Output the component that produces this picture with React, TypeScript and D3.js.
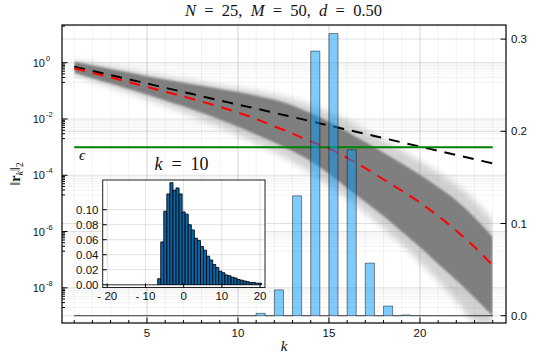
import React from "react";
import * as d3 from "d3";

// k steps of the ensemble
const kSteps = [1, 2, 3, 4, 5, 6, 7, 8, 9, 10, 11, 12, 13, 14, 15, 16, 17, 18, 19, 20, 21, 22, 23, 24];

// log10 of ||r_k||_2
const boundCurve = [-0.14, -0.29, -0.44, -0.59, -0.74, -0.89, -1.04, -1.19, -1.34, -1.49, -1.63, -1.78,
  -1.93, -2.08, -2.23, -2.38, -2.53, -2.68, -2.83, -2.98, -3.13, -3.28, -3.43, -3.58];
const medianCurve = [-0.2, -0.36, -0.52, -0.69, -0.86, -1.03, -1.2, -1.38, -1.57, -1.77, -2.0, -2.26,
  -2.52, -2.8, -3.05, -3.38, -3.75, -4.15, -4.55, -4.97, -5.45, -5.97, -6.55, -7.2];
const coreUpper = [0.03, -0.1, -0.22, -0.35, -0.48, -0.6, -0.71, -0.82, -0.93, -1.04, -1.17, -1.32,
  -1.52, -1.8, -2.1, -2.45, -2.82, -3.2, -3.58, -3.98, -4.42, -4.9, -5.5, -6.2];
const coreLower = [-0.36, -0.55, -0.74, -0.93, -1.13, -1.34, -1.55, -1.78, -2.02, -2.28, -2.55, -2.84,
  -3.15, -3.5, -3.95, -4.45, -4.95, -5.45, -6.0, -6.55, -7.15, -7.73, -8.35, -9.0];
const haloUpper = [0.1, -0.02, -0.14, -0.26, -0.38, -0.49, -0.59, -0.69, -0.79, -0.89, -1.0, -1.13,
  -1.29, -1.5, -1.75, -2.05, -2.4, -2.75, -3.1, -3.5, -3.9, -4.35, -4.9, -5.6];
const haloLower = [-0.45, -0.66, -0.87, -1.08, -1.3, -1.53, -1.77, -2.02, -2.28, -2.56, -2.86, -3.18,
  -3.53, -3.92, -4.35, -4.82, -5.33, -5.87, -6.45, -7.1, -7.75, -8.45, -9.2, -9.3];
const epsilon = 1e-3;

// distribution of the stopping k (right axis)
const kHits = [11, 12, 13, 14, 15, 16, 17, 18, 19];
const kProb = [0.0026, 0.028, 0.13, 0.287, 0.306, 0.18, 0.057, 0.0105, 0.0008];
const kBinWidth = 0.5;

// inset histogram, k = 10 (bins of 0.8 centred from -20 to 20)
const insetCentreStart = -20;
const insetBinWidth = 0.8;
const insetDensity = [0, 0, 0, 0, 0, 0, 0, 0, 0, 0, 0, 0, 0, 0, 0, 0, 0,
  0.008, 0.057, 0.098, 0.121, 0.136, 0.126, 0.129, 0.121,
  0.097, 0.094, 0.08, 0.073, 0.062, 0.059, 0.051, 0.046, 0.038, 0.033, 0.027, 0.023, 0.018,
  0.016, 0.013, 0.012, 0.01, 0.009, 0.007, 0.006, 0.005, 0.004, 0.003, 0.003, 0.002, 0.002];

const xTicks = [5, 10, 15, 20];
const leftExps = [0, -2, -4, -6, -8];
const rightTicks = [0, 0.1, 0.2, 0.3];
const insetXTicks = [-20, -10, 0, 10, 20];
const insetYTicks = [0, 0.02, 0.04, 0.06, 0.08, 0.1];

const W = 540, H = 360;
const plot = { left: 62, right: 506, top: 25, bottom: 323 };
const inset = { left: 102.7, right: 265, top: 180, bottom: 287.5 };
const sans = "'Liberation Sans', Arial, sans-serif";
const serif = "'Liberation Serif', 'DejaVu Serif', serif";
const sp = "\u2002";

export default function App() {
  const x = d3.scaleLinear().domain([0.33, 24.73]).range([plot.left, plot.right]);
  const yL = d3.scaleLog().domain([10 ** -9.25, 10 ** 1.34]).range([plot.bottom, plot.top]);
  const yR = d3.scaleLinear().domain([-0.0079, 0.3153]).range([plot.bottom, plot.top]);
  const xi = d3.scaleLinear().domain([-21.2, 21.3]).range([inset.left, inset.right]);
  const yi = d3.scaleLinear().domain([-0.0037, 0.1396]).range([inset.bottom, inset.top]);

  const band = (hi: number[], lo: number[]) =>
    d3.area<number>()
      .x((_, i) => x(kSteps[i]))
      .y0((_, i) => yL(10 ** lo[i]))
      .y1((_, i) => yL(10 ** hi[i]))
      .curve(d3.curveMonotoneX)(kSteps) || "";
  const line = (vals: number[]) =>
    d3.line<number>()
      .x((k) => x(k))
      .y((_, i) => yL(10 ** vals[i]))
      .curve(d3.curveMonotoneX)(kSteps) || "";

  // log minor ticks
  const minorLog: number[] = [];
  [2, 0, -2, -4, -6, -8].forEach((e) => {
    for (let j = 2; j <= 9; j++) {
      const v = j * 10 ** (e - 1);
      if (v > yL.domain()[0] && v < yL.domain()[1]) minorLog.push(v);
    }
  });

  // main bars: bins of 0.5 from 1 to 24
  const barEdges = d3.range(kSteps[0], kSteps[kSteps.length - 1], kBinWidth);
  const bars = barEdges.map((e) => {
    const idx = kHits.indexOf(e);
    return { x0: e, x1: e + kBinWidth, v: idx >= 0 ? kProb[idx] : 0 };
  });

  const insetBars = insetDensity.map((v, i) => {
    const c = insetCentreStart + i * insetBinWidth;
    return { x0: c - insetBinWidth / 2, x1: c + insetBinWidth / 2, v };
  });

  const gridMajor = "rgba(0,0,0,0.12)";
  const gridMinor = "rgba(0,0,0,0.05)";

  return (
    <svg width={W} height={H} style={{ position: "absolute", left: 0, top: 0 }} viewBox={`0 0 ${W} ${H}`}>
      <defs>
        <clipPath id="plotClip">
          <rect x={plot.left} y={plot.top} width={plot.right - plot.left} height={plot.bottom - plot.top} />
        </clipPath>
        <clipPath id="bandClip">
          <rect x={x(1)} y={plot.top} width={x(24) - x(1)} height={plot.bottom - plot.top} />
        </clipPath>
        <filter id="haze" x="-5%" y="-20%" width="110%" height="140%">
          <feGaussianBlur stdDeviation="3" />
        </filter>
        <filter id="soft" x="-5%" y="-20%" width="110%" height="140%">
          <feGaussianBlur stdDeviation="1.2" />
        </filter>
      </defs>
      <rect x={0} y={0} width={W} height={H} fill="#fff" />

      {/* grid */}
      <g clipPath="url(#plotClip)">
        {kSteps.map((k) => (
          <line key={"gx" + k} x1={x(k)} x2={x(k)} y1={plot.top} y2={plot.bottom} stroke={gridMinor} strokeWidth={1} />
        ))}
        {xTicks.map((k) => (
          <line key={"gX" + k} x1={x(k)} x2={x(k)} y1={plot.top} y2={plot.bottom} stroke={gridMajor} strokeWidth={1} />
        ))}
        {minorLog.map((v, i) => (
          <line key={"gy" + i} x1={plot.left} x2={plot.right} y1={yL(v)} y2={yL(v)} stroke={gridMinor} strokeWidth={1} />
        ))}
        {leftExps.map((e) => (
          <line key={"gY" + e} x1={plot.left} x2={plot.right} y1={yL(10 ** e)} y2={yL(10 ** e)} stroke={gridMajor} strokeWidth={1} />
        ))}
        {rightTicks.map((t) => (
          <line key={"gR" + t} x1={plot.left} x2={plot.right} y1={yR(t)} y2={yR(t)} stroke={gridMajor} strokeWidth={1} />
        ))}
      </g>

      {/* ensemble band */}
      <g clipPath="url(#plotClip)">
        <g clipPath="url(#bandClip)">
          <path d={band(haloUpper, haloLower)} fill="#808080" opacity={0.35} filter="url(#haze)" />
          <path d={band(coreUpper, coreLower)} fill="#7f7f7f" filter="url(#soft)" />
        </g>
        <path d={line(boundCurve)} fill="none" stroke="#000" strokeWidth={2} strokeDasharray="11 8" />
        <path d={line(medianCurve)} fill="none" stroke="#ff0000" strokeWidth={2} strokeDasharray="11 8" />
        <line x1={x(1)} x2={x(24)} y1={yL(epsilon)} y2={yL(epsilon)} stroke="#008000" strokeWidth={2} />
      </g>

      {/* distribution of k */}
      <g clipPath="url(#plotClip)">
        {bars.map((b, i) => (
          <path
            key={"b" + i}
            d={`M${x(b.x0)},${yR(0)}V${yR(b.v)}H${x(b.x1)}V${yR(0)}Z`}
            fill="#009afa"
            fillOpacity={0.5}
            stroke="#000"
            strokeOpacity={0.45}
            strokeWidth={1}
          />
        ))}
      </g>

      {/* frame and ticks */}
      <rect x={plot.left} y={plot.top} width={plot.right - plot.left} height={plot.bottom - plot.top} fill="none" stroke="#000" strokeWidth={1.2} />
      {kSteps.map((k) => (
        <line key={"tx" + k} x1={x(k)} x2={x(k)} y1={plot.bottom} y2={plot.bottom - (xTicks.includes(k) ? 5.5 : 3)} stroke="#000" strokeWidth={1} />
      ))}
      {xTicks.map((k) => (
        <text key={"lx" + k} x={x(k)} y={337} textAnchor="middle" fontFamily={sans} fontSize={11.5} fill="#111">{k}</text>
      ))}
      {minorLog.map((v, i) => (
        <line key={"ty" + i} x1={plot.left} x2={plot.left + 3} y1={yL(v)} y2={yL(v)} stroke="#000" strokeWidth={1} />
      ))}
      {leftExps.map((e) => (
        <g key={"ly" + e}>
          <line x1={plot.left} x2={plot.left + 5.5} y1={yL(10 ** e)} y2={yL(10 ** e)} stroke="#000" strokeWidth={1} />
          <text x={45} y={yL(10 ** e) + 4} textAnchor="end" fontFamily={sans} fontSize={11} fill="#111">10</text>
          <text x={46} y={yL(10 ** e) - 2} fontFamily={sans} fontSize={7.5} fill="#111">{e === 0 ? "0" : `-${-e}`}</text>
        </g>
      ))}
      {rightTicks.map((t) => (
        <g key={"lr" + t}>
          <line x1={plot.right} x2={plot.right - 5.5} y1={yR(t)} y2={yR(t)} stroke="#000" strokeWidth={1} />
          <text x={511} y={yR(t) + 4} fontFamily={sans} fontSize={11.5} fill="#111">{t.toFixed(1)}</text>
        </g>
      ))}

      {/* labels */}
      <text x={283.5} y={15.5} textAnchor="middle" fontFamily={serif} fontSize={16.5} fill="#111" style={{ whiteSpace: "pre" }}>
        <tspan fontStyle="italic">N</tspan>{`${sp}=${sp}25,${sp}`}<tspan fontStyle="italic">M</tspan>{`${sp}=${sp}50,${sp}`}<tspan fontStyle="italic">d</tspan>{`${sp}=${sp}0.50`}
      </text>
      <text x={284} y={351} textAnchor="middle" fontFamily={serif} fontStyle="italic" fontSize={15} fill="#111">k</text>
      <text transform={`translate(20,174) rotate(-90)`} textAnchor="middle" fontFamily={serif} fontSize={14} fill="#111">
        ‖<tspan fontWeight="bold">r</tspan><tspan fontStyle="italic" fontSize={10} dy={3}>k</tspan><tspan dy={-3}>‖</tspan><tspan fontSize={10} dy={3}>2</tspan>
      </text>
      <text x={79} y={160} fontFamily={serif} fontStyle="italic" fontSize={15} fill="#111">ϵ</text>

      {/* inset */}
      <text x={181.5} y={170} textAnchor="middle" fontFamily={serif} fontSize={18} fill="#111" style={{ whiteSpace: "pre" }}>
        <tspan fontStyle="italic">k</tspan>{`${sp}=${sp}10`}
      </text>
      <rect x={inset.left} y={inset.top} width={inset.right - inset.left} height={inset.bottom - inset.top} fill="#fff" />
      <g>
        {insetXTicks.map((t) => (
          <line key={"igx" + t} x1={xi(t)} x2={xi(t)} y1={inset.top} y2={inset.bottom} stroke={gridMajor} strokeWidth={1} />
        ))}
        {insetYTicks.map((t) => (
          <line key={"igy" + t} x1={inset.left} x2={inset.right} y1={yi(t)} y2={yi(t)} stroke={gridMajor} strokeWidth={1} />
        ))}
        {insetBars.map((b, i) => (
          <path
            key={"ib" + i}
            d={`M${xi(b.x0)},${yi(0)}V${yi(b.v)}H${xi(b.x1)}V${yi(0)}Z`}
            fill="#0868a8"
            stroke={b.v > 0 ? "#05070d" : "#666"}
            strokeWidth={b.v > 0 ? 0.9 : 1}
          />
        ))}
      </g>
      <rect x={inset.left} y={inset.top} width={inset.right - inset.left} height={inset.bottom - inset.top} fill="none" stroke="#222" strokeWidth={1} />
      {insetXTicks.map((t) => (
        <g key={"ix" + t}>
          <line x1={xi(t)} x2={xi(t)} y1={inset.bottom} y2={inset.bottom - 4} stroke="#000" strokeWidth={1} />
          <text x={xi(t)} y={300} textAnchor="middle" fontFamily={sans} fontSize={11.5} fill="#111">{t < 0 ? `- ${-t}` : t}</text>
        </g>
      ))}
      {insetYTicks.map((t) => (
        <g key={"iy" + t}>
          <line x1={inset.left} x2={inset.left + 4} y1={yi(t)} y2={yi(t)} stroke="#000" strokeWidth={1} />
          <text x={98.5} y={yi(t) + 4} textAnchor="end" fontFamily={sans} fontSize={11.5} fill="#111">{t.toFixed(2)}</text>
        </g>
      ))}
    </svg>
  );
}
